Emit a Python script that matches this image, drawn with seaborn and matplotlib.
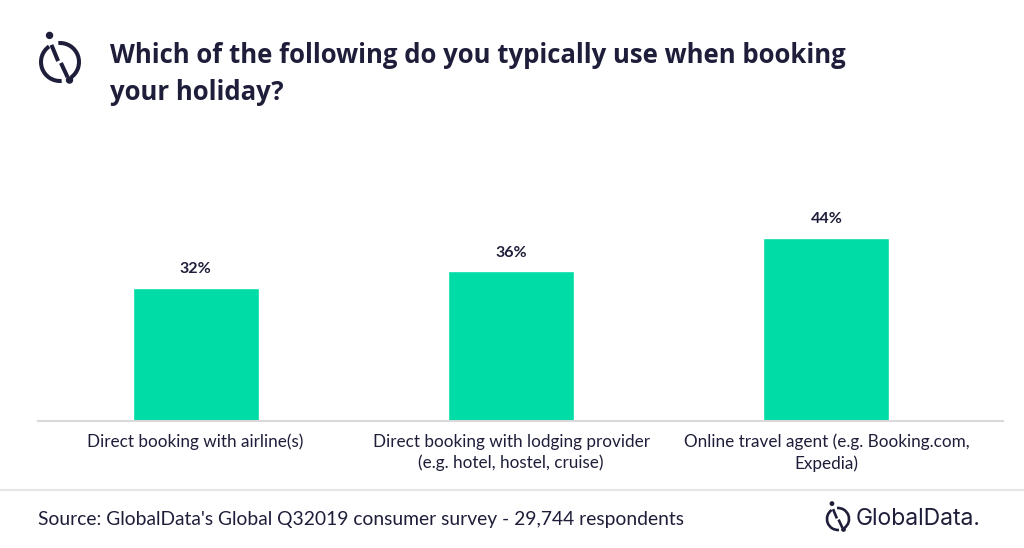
import matplotlib
matplotlib.use('Agg')
import matplotlib.pyplot as plt
import seaborn as sns
import pandas as pd
from matplotlib.patches import Arc, Circle

#==============================================================================
categories = ['Direct booking with airline(s)',
              'Direct booking with lodging provider\n(e.g. hotel, hostel, cruise)',
              'Online travel agent (e.g. Booking.com,\nExpedia)']
values = [32, 36, 44]
value_labels = ['32%', '36%', '44%']
title = 'Which of the following do you typically use when booking\nyour holiday?'
source = "Source: GlobalData's Global Q32019 consumer survey - 29,744 respondents"
#------------------------------------------------------------------------------
W, H = 1024, 548
GREEN = '#00dca5'
NAVY = '#1e1e3a'
GREY = '#d9d9d9'

sns.set_style('white')
plt.rcParams['font.family'] = ['Lato', 'DejaVu Sans']

df = pd.DataFrame({'category': categories, 'value': values})

fig = plt.figure(figsize=(W / 100, H / 100), dpi=100)
fig.patch.set_facecolor('white')

def fx(px):
    return px / W

def fy(py):
    return 1 - py / H

ax = fig.add_axes([fx(38), fy(421), fx(1003) - fx(38), fy(212.5) - fy(421)])
sns.barplot(data=df, x='category', y='value', color=GREEN, width=0.4,
            saturation=1, ax=ax)
ax.set_xlim(-0.5, 2.56)
ax.set_ylim(0, 50)
ax.set_xlabel('')
ax.set_ylabel('')
ax.set_yticks([])
ax.tick_params(axis='x', length=0, pad=9, labelsize=12.3, labelcolor=NAVY)
for s in ['top', 'left', 'right']:
    ax.spines[s].set_visible(False)
ax.spines['bottom'].set_color(GREY)
ax.spines['bottom'].set_linewidth(1.5)
for lab in ax.get_xticklabels():
    lab.set_linespacing(1.4)

for i, (v, t) in enumerate(zip(values, value_labels)):
    ax.annotate(t, (i, v), xytext=(0, 8), textcoords='offset points',
                ha='center', va='bottom', fontsize=11.5, fontweight='bold',
                color=NAVY)

# title
fig.text(fx(110), fy(74), title, ha='left', va='center', fontsize=18.5,
         fontweight='bold', color=NAVY, family=['Open Sans', 'DejaVu Sans'],
         linespacing=1.44)

# separator, source and logos on a pixel overlay
overlay = fig.add_axes([0, 0, 1, 1], zorder=5)
overlay.set_xlim(0, W)
overlay.set_ylim(0, H)
overlay.axis('off')
overlay.patch.set_alpha(0)
overlay.plot([0, W], [H - 490, H - 490], color='#e6e6e6', lw=1.5)

fig.text(fx(38), fy(519), source, ha='left', va='center', fontsize=13.9,
         color=NAVY)
fig.text(fx(856), fy(519), 'GlobalData.', ha='left', va='center',
         fontsize=16.5, color=NAVY, family=['Inter', 'DejaVu Sans'])

def draw_icon(cx, cy, r, lw, dot):
    cy = H - cy
    overlay.add_patch(Arc((cx, cy), 2 * r, 2 * r, theta1=125, theta2=275,
                          color=NAVY, lw=lw))
    overlay.add_patch(Arc((cx, cy), 2 * r, 2 * r, theta1=-55, theta2=95,
                          color=NAVY, lw=lw))
    k = r / 20.0
    overlay.plot([cx - 9 * k, cx - 2 * k], [cy + 18 * k, cy + 1 * k],
                 color=NAVY, lw=lw, solid_capstyle='butt')
    overlay.plot([cx + 1 * k, cx + 8 * k], [cy - 1 * k, cy - 16 * k],
                 color=NAVY, lw=lw, solid_capstyle='butt')
    overlay.add_patch(Circle((cx - 11 * k, cy + 28 * k), dot, color=NAVY))
    overlay.add_patch(Circle((cx + 10 * k, cy - 19 * k), dot, color=NAVY))

draw_icon(60, 62, 19, 2.9, 3)
draw_icon(838, 519, 11, 1.9, 1.7)

fig.savefig('out.png', dpi=100, facecolor='white')
